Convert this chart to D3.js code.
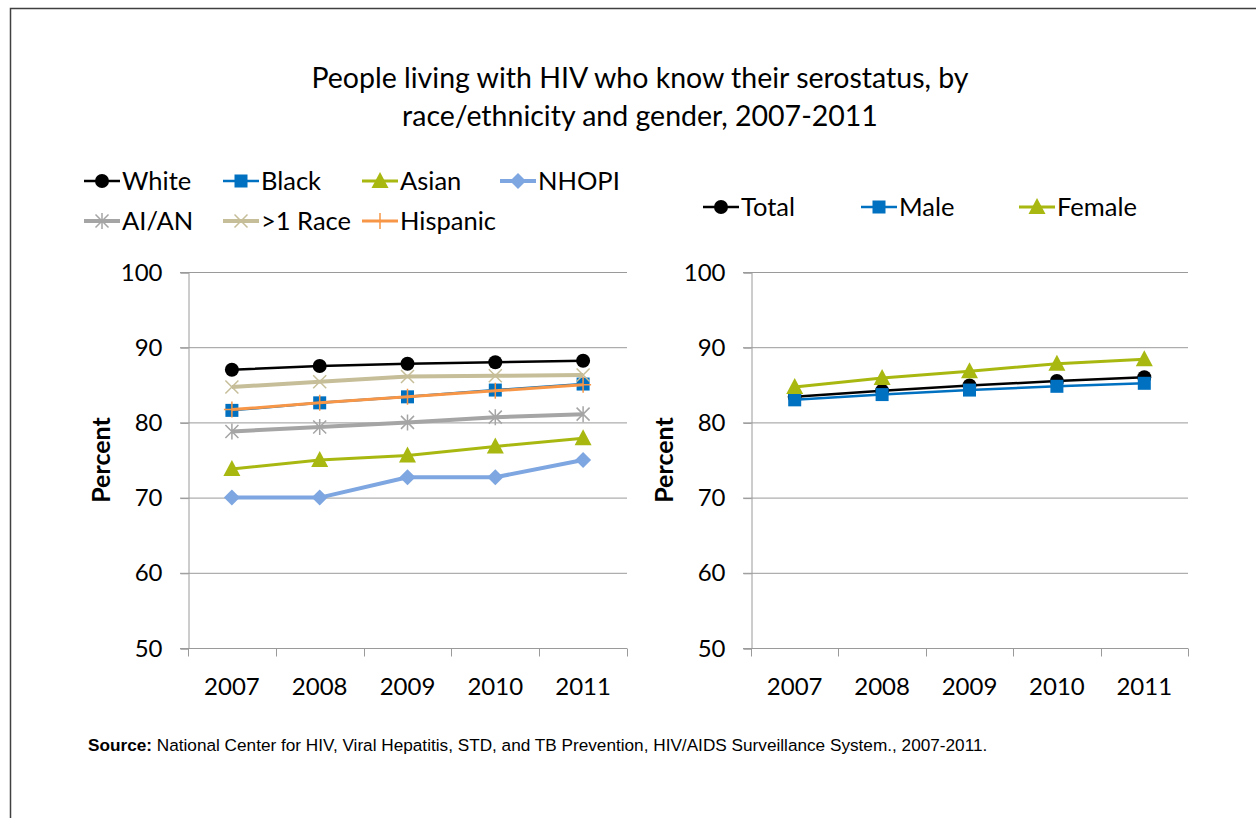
<!DOCTYPE html>
<html>
<head>
<meta charset="utf-8">
<script src="https://cdn.jsdelivr.net/npm/d3@7"></script>
<style>
  html, body { margin: 0; padding: 0; background: #fff; }
  svg { display: block; }
  text { font-family: Lato, "Open Sans", sans-serif; fill: #000; }
</style>
</head>
<body>
<svg id="chart" width="1256" height="818"></svg>
<script>
// Years on the x axis
const years = ["2007", "2008", "2009", "2010", "2011"];
// Y axis ticks (percent)
const yTicks = [50, 60, 70, 80, 90, 100];

// Left panel: race/ethnicity
const raceNames = ["White", "Black", "Asian", "NHOPI", "AI/AN", ">1 Race", "Hispanic"];
const white    = [87.0, 87.5, 87.8, 88.0, 88.2];
const black    = [81.6, 82.6, 83.4, 84.3, 85.1];
const asian    = [73.8, 75.0, 75.6, 76.8, 77.9];
const nhopi    = [70.0, 70.0, 72.7, 72.7, 75.0];
const aian     = [78.8, 79.4, 80.0, 80.7, 81.1];
const multi    = [84.7, 85.4, 86.1, 86.2, 86.3];
const hispanic = [81.7, 82.6, 83.4, 84.2, 85.0];

// Right panel: gender
const genderNames = ["Total", "Male", "Female"];
const total  = [83.4, 84.2, 84.9, 85.5, 86.0];
const male   = [83.0, 83.7, 84.3, 84.8, 85.2];
const female = [84.7, 85.9, 86.8, 87.8, 88.4];

const raceSeries = [
  { name: raceNames[0], values: white,    color: "#000000", width: 2.5, marker: "circle" },
  { name: raceNames[1], values: black,    color: "#0070C0", width: 2.5, marker: "square" },
  { name: raceNames[2], values: asian,    color: "#A8B810", width: 3,   marker: "triangle" },
  { name: raceNames[3], values: nhopi,    color: "#7EA6E0", width: 4,   marker: "diamond" },
  { name: raceNames[4], values: aian,     color: "#A5A5A5", width: 4,   marker: "asterisk" },
  { name: raceNames[5], values: multi,    color: "#C6BE98", width: 4,   marker: "cross" },
  { name: raceNames[6], values: hispanic, color: "#F79646", width: 3,   marker: "plus" }
];
const genderSeries = [
  { name: genderNames[0], values: total,  color: "#000000", width: 2.5, marker: "circle" },
  { name: genderNames[1], values: male,   color: "#0070C0", width: 2.5, marker: "square" },
  { name: genderNames[2], values: female, color: "#A8B810", width: 3,   marker: "triangle" }
];

const svg = d3.select("#chart");

// outer frame
svg.append("path")
  .attr("d", "M10.5,830 L10.5,8.5 L1270,8.5")
  .attr("fill", "none").attr("stroke", "#404040").attr("stroke-width", 1.5);

// title
const title = svg.append("text")
  .attr("x", 640).attr("text-anchor", "middle")
  .style("font-size", "28.5px");
title.append("tspan").attr("x", 640).attr("y", 88).text("People living with HIV who know their serostatus, by");
title.append("tspan").attr("x", 640).attr("y", 126).text("race/ethnicity and gender, 2007-2011");

// source note
const src = svg.append("text").attr("x", 88).attr("y", 751)
  .style("font-family", "'Liberation Sans', Arial, sans-serif").style("font-size", "17.2px");
src.append("tspan").style("font-weight", "bold").text("Source:");
src.append("tspan").text(" National Center for HIV, Viral Hepatitis, STD, and TB Prevention, HIV/AIDS Surveillance System., 2007-2011.");

function drawMarker(g, type, x, y, color) {
  switch (type) {
    case "circle":
      g.append("circle").attr("cx", x).attr("cy", y).attr("r", 7).attr("fill", color);
      break;
    case "square":
      g.append("rect").attr("x", x - 6.5).attr("y", y - 6.5).attr("width", 13).attr("height", 13).attr("fill", color);
      break;
    case "triangle":
      g.append("path").attr("d", `M${x},${y - 9} L${x + 8.5},${y + 7} L${x - 8.5},${y + 7} Z`).attr("fill", color);
      break;
    case "diamond":
      g.append("path").attr("d", `M${x},${y - 8} L${x + 8},${y} L${x},${y + 8} L${x - 8},${y} Z`).attr("fill", color);
      break;
    case "cross":
      g.append("path").attr("d", `M${x - 6.5},${y - 6.5} L${x + 6.5},${y + 6.5} M${x - 6.5},${y + 6.5} L${x + 6.5},${y - 6.5}`)
        .attr("stroke", color).attr("stroke-width", 1.5);
      break;
    case "asterisk":
      g.append("path").attr("d", `M${x - 6.5},${y - 6.5} L${x + 6.5},${y + 6.5} M${x - 6.5},${y + 6.5} L${x + 6.5},${y - 6.5} M${x},${y - 8} L${x},${y + 8}`)
        .attr("stroke", color).attr("stroke-width", 1.5);
      break;
    case "plus":
      g.append("path").attr("d", `M${x - 8},${y} L${x + 8},${y} M${x},${y - 8} L${x},${y + 8}`)
        .attr("stroke", color).attr("stroke-width", 1.5);
      break;
  }
}

function drawPanel(opts) {
  const { x0, x1, y0, y1, series } = opts;
  const x = d3.scaleBand().domain(years).range([x0, x1]);
  const y = d3.scaleLinear().domain([50, 100]).range([y1, y0]);
  const g = svg.append("g");

  // horizontal gridlines
  g.selectAll("line.grid").data(yTicks.filter(t => t > 50)).enter().append("line")
    .attr("x1", x0 - 8).attr("x2", x1)
    .attr("y1", d => y(d) + 0.5).attr("y2", d => y(d) + 0.5)
    .attr("stroke", "#9a9a9a").attr("stroke-width", 1);

  // y axis
  const yAxis = g.append("g").attr("transform", `translate(${x0 + 0.5},0.5)`)
    .call(d3.axisLeft(y).tickValues(yTicks).tickSize(8).tickPadding(18));
  yAxis.select(".domain").attr("stroke", "#9a9a9a");
  yAxis.selectAll(".tick line").attr("stroke", "#9a9a9a");
  yAxis.selectAll(".tick text").style("font-family", "Lato, sans-serif").style("font-size", "24px").attr("fill", "#000");

  // x axis with boundary tick marks between categories
  const xAxis = g.append("g").attr("transform", `translate(0,${y1 + 0.5})`);
  xAxis.append("line").attr("x1", x0 - 8).attr("x2", x1).attr("stroke", "#9a9a9a");
  const bounds = years.map(d => x(d)).concat([x1]);
  xAxis.selectAll("line.tk").data(bounds).enter().append("line")
    .attr("x1", d => Math.round(d) + 0.5).attr("x2", d => Math.round(d) + 0.5)
    .attr("y1", 0).attr("y2", 8).attr("stroke", "#9a9a9a");
  xAxis.selectAll("text").data(years).enter().append("text")
    .attr("x", d => x(d) + x.bandwidth() / 2).attr("y", 46)
    .attr("text-anchor", "middle").style("font-size", "24px").text(d => d);

  // y axis title
  g.append("text")
    .attr("transform", `translate(${x0 - 78},${(y0 + y1) / 2}) rotate(-90)`)
    .attr("text-anchor", "middle").style("font-size", "25px").style("font-weight", "bold")
    .text("Percent");

  // series lines + markers
  const line = d3.line().x((d, i) => x(years[i]) + x.bandwidth() / 2).y(d => y(d));
  series.forEach(s => {
    const sg = g.append("g");
    sg.append("path").datum(s.values).attr("d", line)
      .attr("fill", "none").attr("stroke", s.color).attr("stroke-width", s.width)
      .attr("stroke-linejoin", "round");
    s.values.forEach((v, i) => drawMarker(sg, s.marker, x(years[i]) + x.bandwidth() / 2, y(v), s.color));
  });
}

function drawLegend(series, positions) {
  series.forEach((s, i) => {
    const p = positions[i];
    const g = svg.append("g");
    g.append("line").attr("x1", p.x).attr("x2", p.x + 36).attr("y1", p.y).attr("y2", p.y)
      .attr("stroke", s.color).attr("stroke-width", s.width);
    drawMarker(g, s.marker, p.x + 18, p.y, s.color);
    g.append("text").attr("x", p.x + 38).attr("y", p.y + 9).style("font-size", "25.5px").text(s.name);
  });
}

drawPanel({ x0: 188, x1: 627, y0: 272, y1: 648, series: raceSeries });
drawPanel({ x0: 751, x1: 1188, y0: 272, y1: 648, series: genderSeries });

drawLegend(raceSeries, [
  { x: 84, y: 181 }, { x: 223, y: 181 }, { x: 362, y: 181 }, { x: 500, y: 181 },
  { x: 84, y: 221 }, { x: 223, y: 221 }, { x: 362, y: 221 }
]);
drawLegend(genderSeries, [
  { x: 703, y: 207 }, { x: 861, y: 207 }, { x: 1019, y: 207 }
]);
</script>
</body>
</html>
